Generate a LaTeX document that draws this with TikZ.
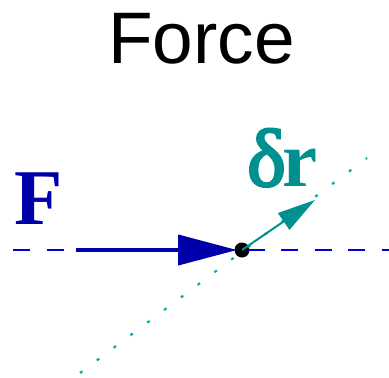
\documentclass[tikz,border=0pt]{standalone}
\usepackage{fontspec}
\setmainfont{Liberation Serif}
\newfontfamily\titlefont{Liberation Sans}
\newfontfamily\greekbold[FakeBold=3]{Liberation Serif}
\usetikzlibrary{arrows.meta}
\definecolor{fblue}{HTML}{0000AA}
\definecolor{lblue}{HTML}{0000DD}
\definecolor{dteal}{HTML}{009090}
\definecolor{lcyan}{HTML}{00B0B0}
\tikzset{
  lbl/.style={inner sep=0pt, anchor=base west},
  axisline/.style={lblue, line width=2.6pt, dash pattern=on 17pt off 16.5pt, dash phase=0pt},
  dirline/.style={lcyan, line width=2.2pt, dash pattern=on 3pt off 18pt},
  forcearrow/.style={fblue, line width=4pt, -{Triangle[length=59pt,width=30pt]}},
  disparrow/.style={dteal, line width=2pt, -{Triangle[length=38pt,width=20pt]}},
}
\begin{document}
\begin{tikzpicture}[x=1pt,y=-1pt]
\useasboundingbox (0,0) rectangle (389,378);
\node[inner sep=0pt, anchor=base] (title) at (201.5,63) {\titlefont\fontsize{73}{80}\selectfont Force};
\coordinate (P) at (242,250);
\coordinate (axL) at (13,250);
\coordinate (axR) at (389,250);
\coordinate (fstart) at (76,250);
\coordinate (ftip) at (237,250);
\coordinate (dlo) at (80,373);
\coordinate (dhi) at (367,158);
\coordinate (rtip) at (315,200);
\fill[black] (P) circle (7.5);
\draw[axisline] (axL) -- (axR);
\draw[dirline] (dlo) -- (dhi);
\draw[forcearrow] (fstart) -- (ftip);
\draw[disparrow] (P) -- (rtip);
\node[lbl, fblue] (F) at (14,224) {\fontsize{79}{85}\selectfont\bfseries F};
\node[lbl, dteal] (dr) at (247,186) {{\greekbold\fontsize{82}{90}\selectfont δ}\kern-3pt{\fontsize{79}{85}\selectfont\bfseries r}};
\end{tikzpicture}
\end{document}
